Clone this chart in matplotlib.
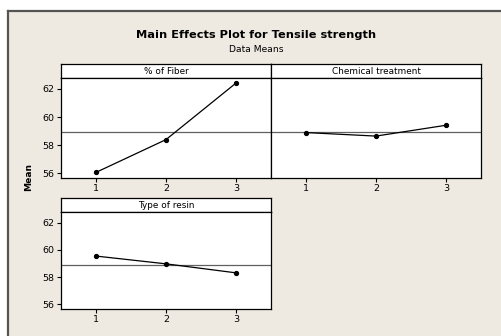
import matplotlib
matplotlib.use('Agg')
import matplotlib.pyplot as plt
from matplotlib.patches import Rectangle

# main effects data (means per level)
levels = [1, 2, 3]
fiber = [56.07, 58.40, 62.42]
chem = [58.90, 58.65, 59.42]
resin = [59.55, 58.98, 58.32]
grand_mean = 58.93
yticks = [56, 58, 60, 62]

W, H = 501, 336
bg = '#EEEAE1'

fig = plt.figure(figsize=(W / 100, H / 100), dpi=100)
fig.patch.set_facecolor('white')

# beige panel with dark top/left border, kept behind the axes
fig.patches.append(Rectangle((8 / W, 0), 1, (H - 11) / H, transform=fig.transFigure,
                             facecolor=bg, edgecolor='none', zorder=-10))
fig.lines.append(plt.Line2D([8 / W, 8 / W], [0, (H - 10.5) / H], transform=fig.transFigure,
                            color='#555555', lw=1.6, zorder=-5))
fig.lines.append(plt.Line2D([8 / W, 1], [(H - 10.5) / H, (H - 10.5) / H], transform=fig.transFigure,
                            color='#555555', lw=1.6, zorder=-5))

fig.text(256 / W, 1 - 35 / H, 'Main Effects Plot for Tensile strength', ha='center', va='center',
         fontsize=8.2, fontweight='bold')
fig.text(256 / W, 1 - 50 / H, 'Data Means', ha='center', va='center', fontsize=6.6)
fig.text(29 / W, 1 - 177 / H, 'Mean', ha='center', va='center', rotation=90,
         fontsize=6.6, fontweight='bold')


def panel(x0, x1, top, bottom, title, vals, show_y):
    head_b = top + 14
    # header strip
    hax = fig.add_axes([x0 / W, 1 - head_b / H, (x1 - x0) / W, 14 / H])
    hax.set_xticks([])
    hax.set_yticks([])
    hax.set_facecolor('white')
    for s in hax.spines.values():
        s.set_linewidth(0.9)
    hax.text(0.5, 0.5, title, ha='center', va='center', fontsize=6.4, transform=hax.transAxes)

    ax = fig.add_axes([x0 / W, 1 - bottom / H, (x1 - x0) / W, (bottom - head_b) / H])
    ax.set_facecolor('white')
    ax.plot(levels, vals, color='black', lw=0.9, marker='o', ms=2.8, zorder=3)
    ax.axhline(grand_mean, color='#606060', lw=0.9, zorder=2)
    ax.set_xlim(0.5, 3.5)
    ax.set_ylim(55.67, 62.78)
    ax.set_xticks(levels)
    ax.set_yticks(yticks)
    ax.tick_params(length=3, width=0.8, labelsize=6.8, pad=1.5)
    if not show_y:
        ax.tick_params(axis='y', left=False, labelleft=False)
    for s in ax.spines.values():
        s.set_linewidth(0.9)
    return ax


panel(61, 271, 64, 178, '% of Fiber', fiber, True)
panel(271, 481, 64, 178, 'Chemical treatment', chem, False)
panel(61, 271, 198, 309, 'Type of resin', resin, True)

fig.savefig('out.png', dpi=100, facecolor=fig.get_facecolor())
